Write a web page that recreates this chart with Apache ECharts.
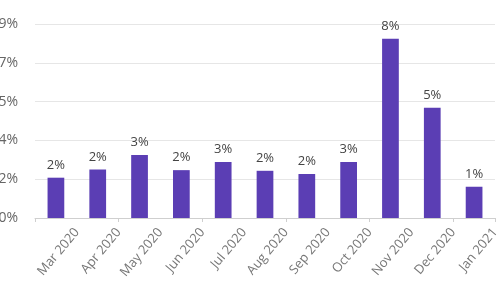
<!DOCTYPE html>
<html>
<head>
<meta charset="utf-8">
<script src="https://cdn.jsdelivr.net/npm/echarts@6/dist/echarts.min.js"></script>
<style>html,body{margin:0;padding:0;background:#fff;}#c{width:500px;height:300px;}</style>
</head>
<body>
<div id="c"></div>
<script>
var categories = ['Mar 2020','Apr 2020','May 2020','Jun 2020','Jul 2020','Aug 2020','Sep 2020','Oct 2020','Nov 2020','Dec 2020','Jan 2021'];
var values = [1.87, 2.25, 2.92, 2.22, 2.6, 2.19, 2.04, 2.6, 8.32, 5.12, 1.45];
var yMin = 0, yMax = 9, yStep = 1.8;

var chart = echarts.init(document.getElementById('c'), null, {renderer: 'canvas'});
var font = '"Open Sans", sans-serif';
chart.setOption({
  animation: false,
  grid: [
    {left: 35, right: 5, top: 24, bottom: 82, containLabel: false, outerBoundsMode: 'none'},
    {left: 56, right: -16, top: 24, bottom: 82, containLabel: false, outerBoundsMode: 'none'}
  ],
  xAxis: [
    {type: 'category', gridIndex: 0, data: categories,
     axisLine: {show: true, lineStyle: {color: '#cfcfcf'}},
     axisTick: {show: true, length: 4, lineStyle: {color: '#cfcfcf'}},
     axisLabel: {show: false}},
    {type: 'category', gridIndex: 1, data: categories,
     axisLine: {show: false}, axisTick: {show: false},
     axisLabel: {rotate: 50, margin: 12, color: '#777', fontSize: 13, fontFamily: font, interval: 0}}
  ],
  yAxis: [
    {type: 'value', gridIndex: 0, min: yMin, max: yMax, interval: yStep,
     axisLine: {show: false}, axisTick: {show: false},
     splitLine: {lineStyle: {color: '#e6e6e6'}},
     axisLabel: {margin: 17, color: '#666', fontSize: 14, fontFamily: font,
       formatter: function(v){ return Math.round(v) + '%'; }}},
    {type: 'value', gridIndex: 1, min: yMin, max: yMax, show: false}
  ],
  series: [{
    type: 'bar', xAxisIndex: 0, yAxisIndex: 0, data: values,
    barWidth: '40%',
    itemStyle: {color: '#5b3eb4'},
    label: {show: true, position: 'top', distance: 6, color: '#444', fontSize: 13, fontFamily: font,
      formatter: function(p){ return Math.round(p.value) + '%'; }}
  }]
});
</script>
</body>
</html>
